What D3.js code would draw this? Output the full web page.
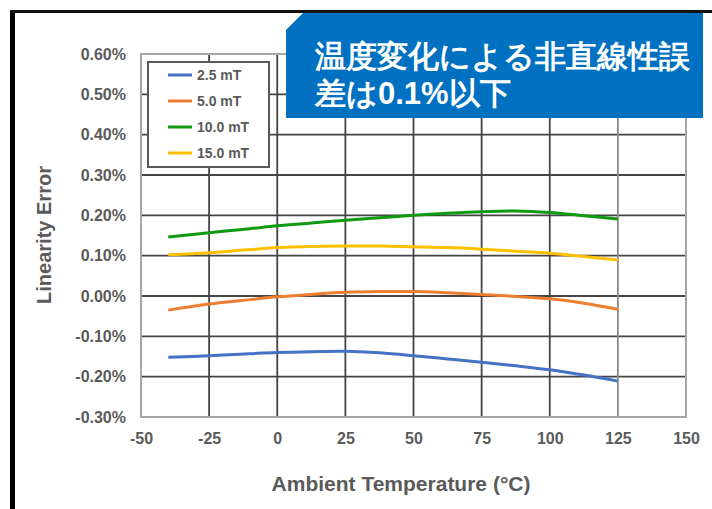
<!DOCTYPE html>
<html>
<head>
<meta charset="utf-8">
<script src="https://cdn.jsdelivr.net/npm/d3@7"></script>
<style>
  body { margin: 0; background: #fff; }
  text { font-family: Arial, "Liberation Sans", sans-serif; }
</style>
</head>
<body>
<div class="chart"></div>
<script>
// temperature points and linearity error (%) per field strength
const temps = [-40, -25, -10, 0, 12.5, 25, 37.5, 50, 62.5, 75, 87.5, 100, 112.5, 125];
const err25 = [-0.152, -0.148, -0.143, -0.140, -0.138, -0.137, -0.141, -0.148, -0.156, -0.164, -0.173, -0.183, -0.196, -0.211];
const err50 = [-0.035, -0.020, -0.009, -0.002, 0.004, 0.009, 0.011, 0.011, 0.008, 0.004, -0.001, -0.007, -0.018, -0.033];
const err100 = [0.146, 0.157, 0.167, 0.174, 0.181, 0.188, 0.194, 0.200, 0.205, 0.209, 0.211, 0.207, 0.199, 0.191];
const err150 = [0.102, 0.107, 0.115, 0.120, 0.123, 0.124, 0.124, 0.122, 0.120, 0.116, 0.111, 0.106, 0.098, 0.089];

const seriesNames = ['2.5 mT', '5.0 mT', '10.0 mT', '15.0 mT'];
const seriesColors = ['#4472c4', '#ed7d31', '#0f9a0f', '#ffc000'];
const seriesValues = [err25, err50, err100, err150];

const xTicks = [-50, -25, 0, 25, 50, 75, 100, 125, 150];
const yTicks = [-0.3, -0.2, -0.1, 0, 0.1, 0.2, 0.3, 0.4, 0.5, 0.6];

const W = 712, H = 509;
const margin = {top: 54, right: 26, bottom: 92, left: 141};
const width = W - margin.left - margin.right;
const height = H - margin.top - margin.bottom;

const root = d3.select('.chart')
  .append('svg')
    .attr('width', W)
    .attr('height', H);

// outer black frame (left and top)
root.append('line')
  .attr('x1', 12.5).attr('x2', 12.5).attr('y1', 10).attr('y2', H)
  .attr('stroke', '#000').attr('stroke-width', 5);
root.append('line')
  .attr('x1', 10).attr('x2', W).attr('y1', 11.5).attr('y2', 11.5)
  .attr('stroke', '#111').attr('stroke-width', 3);

const svg = root.append('g')
  .attr('transform', `translate(${margin.left}, ${margin.top})`);

const x = d3.scaleLinear().domain([-50, 150]).range([0, width]);
const y = d3.scaleLinear().domain([-0.3, 0.6]).range([height, 0]);

// grid
svg.append('g')
  .selectAll('line')
  .data(yTicks.slice(1, -1))
  .join('line')
    .attr('x1', 0).attr('x2', width)
    .attr('y1', d => y(d)).attr('y2', d => y(d))
    .attr('stroke', '#444').attr('stroke-width', 1.8);
svg.append('g')
  .selectAll('line')
  .data(xTicks.slice(1, -1))
  .join('line')
    .attr('y1', 0).attr('y2', height)
    .attr('x1', d => x(d)).attr('x2', d => x(d))
    .attr('stroke', d => d === 125 ? '#8a8a8a' : '#444').attr('stroke-width', 1.8);

// plot frame
svg.append('rect')
  .attr('width', width).attr('height', height)
  .attr('fill', 'none').attr('stroke', '#a6a6a6').attr('stroke-width', 2);

// axes labels (plain hyphen for negatives, like the original)
const yAxis = d3.axisLeft(y).tickValues(yTicks).tickSize(0).tickPadding(15)
  .tickFormat(d => d.toFixed(2) + '%');
svg.append('g').call(yAxis)
  .call(g => g.select('.domain').remove())
  .selectAll('text')
    .attr('font-size', 16).attr('font-weight', 'bold').attr('fill', '#5a5a5a');

const xAxis = d3.axisBottom(x).tickValues(xTicks).tickSize(0).tickPadding(16)
  .tickFormat(d => String(d));
svg.append('g')
  .attr('transform', `translate(0, ${height})`)
  .call(xAxis)
  .call(g => g.select('.domain').remove())
  .selectAll('text')
    .attr('font-size', 16).attr('font-weight', 'bold').attr('fill', '#5a5a5a');

// lines
const line = d3.line()
  .x((d, i) => x(temps[i]))
  .y(d => y(d))
  .curve(d3.curveCatmullRom);

svg.selectAll('.series')
  .data(seriesValues)
  .join('path')
    .attr('class', 'series')
    .attr('d', line)
    .attr('fill', 'none')
    .attr('stroke', (d, i) => seriesColors[i])
    .attr('stroke-width', 3);

// axis titles
root.append('text')
  .attr('x', 401).attr('y', 491)
  .attr('text-anchor', 'middle')
  .attr('font-size', 21).attr('font-weight', 'bold').attr('fill', '#5a5a5a')
  .text('Ambient Temperature (°C)');
root.append('text')
  .attr('transform', 'translate(51, 235) rotate(-90)')
  .attr('text-anchor', 'middle')
  .attr('font-size', 20).attr('font-weight', 'bold').attr('fill', '#5a5a5a')
  .text('Linearity Error');

// legend
const legend = root.append('g').attr('transform', 'translate(148, 62)');
legend.append('rect')
  .attr('width', 121).attr('height', 105)
  .attr('fill', '#fff').attr('stroke', '#595959').attr('stroke-width', 2);
const item = legend.selectAll('.item')
  .data(seriesNames)
  .join('g')
    .attr('class', 'item')
    .attr('transform', (d, i) => `translate(0, ${13 + i * 26})`);
item.append('line')
  .attr('x1', 20).attr('x2', 44)
  .attr('stroke', (d, i) => seriesColors[i]).attr('stroke-width', 3);
item.append('text')
  .attr('x', 49).attr('y', 5)
  .attr('font-size', 14).attr('font-weight', 'bold').attr('fill', '#5a5a5a')
  .text(d => d);

// callout box
const box = root.append('g');
box.append('path')
  .attr('d', 'M286,30 L303,13 L703,13 L703,118 L286,118 Z')
  .attr('fill', '#0070c0');
box.append('text')
  .attr('x', 315).attr('y', 67)
  .attr('font-family', '"Noto Sans CJK JP", sans-serif')
  .attr('font-size', 31).attr('font-weight', 'bold').attr('fill', '#fff')
  .text('温度変化による非直線性誤');
box.append('text')
  .attr('x', 315).attr('y', 104)
  .attr('font-family', '"Noto Sans CJK JP", sans-serif')
  .attr('font-size', 31).attr('font-weight', 'bold').attr('fill', '#fff')
  .text('差は0.1%以下');
</script>
</body>
</html>
